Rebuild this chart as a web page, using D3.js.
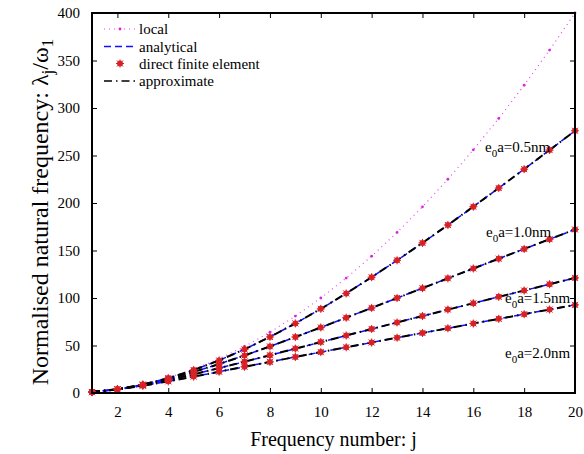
<!DOCTYPE html>
<html>
<head>
<meta charset="utf-8">
<script src="https://cdn.jsdelivr.net/npm/d3@7"></script>
<style>
  body { margin: 0; background: #fff; }
  svg text { font-family: "Liberation Serif", "Times New Roman", serif; fill: #000; }
</style>
</head>
<body>
<svg id="chart" width="584" height="454"></svg>
<script>
// frequency numbers j
var modes = [1, 2, 3, 4, 5, 6, 7, 8, 9, 10, 11, 12, 13, 14, 15, 16, 17, 18, 19, 20];

// local theory (no small scale)
var localVals = [1, 4, 9, 16, 25, 36, 49, 64, 81, 100, 121, 144, 169, 196, 225, 256, 289, 324, 361, 400];

// nonlocal curves, one per e0a
var e05 = [1.0, 3.98, 8.89, 15.66, 24.18, 34.34, 46.0, 59.02, 73.25, 88.56, 104.81, 121.88, 139.64, 157.99, 176.84, 196.11, 215.72, 235.62, 255.74, 276.03];
var e10 = [0.99, 3.91, 8.59, 14.75, 22.14, 30.47, 39.5, 49.03, 58.9, 69.01, 79.25, 89.58, 99.95, 110.33, 120.7, 131.05, 141.37, 151.66, 161.91, 172.13];
var e15 = [0.99, 3.82, 8.14, 13.54, 19.65, 26.18, 32.94, 39.81, 46.73, 53.64, 60.54, 67.4, 74.24, 81.03, 87.79, 94.52, 101.21, 107.89, 114.53, 121.16];
var e20 = [0.98, 3.69, 7.62, 12.26, 17.25, 22.4, 27.58, 32.76, 37.91, 43.03, 48.12, 53.17, 58.19, 63.18, 68.15, 73.1, 78.03, 82.95, 87.86, 92.75];

var curveLabels = ["0.5nm", "1.0nm", "1.5nm", "2.0nm"];
var legendNames = ["local", "analytical", "direct finite element", "approximate"];
var xTicks = [2, 4, 6, 8, 10, 12, 14, 16, 18, 20];
var yTicks = [0, 50, 100, 150, 200, 250, 300, 350, 400];

var nonlocal = [e05, e10, e15, e20];

var svg = d3.select("#chart");
var plotL = 92, plotR = 575, plotT = 13, plotB = 393;

var x = d3.scaleLinear().domain([1, 20]).range([plotL, plotR]);
var y = d3.scaleLinear().domain([0, 400]).range([plotB, plotT]);

// axes with inward ticks
svg.append('g')
  .attr('transform', 'translate(0,' + plotB + ')')
  .call(d3.axisBottom(x).tickValues(xTicks).tickSizeInner(-5).tickSizeOuter(0).tickPadding(13))
  .call(function (g) { g.select('.domain').remove(); });
svg.append('g')
  .attr('transform', 'translate(0,' + plotT + ')')
  .call(d3.axisTop(x).tickValues(xTicks).tickSizeInner(-5).tickSizeOuter(0).tickFormat(''))
  .call(function (g) { g.select('.domain').remove(); });
svg.append('g')
  .attr('transform', 'translate(' + plotL + ',0)')
  .call(d3.axisLeft(y).tickValues(yTicks).tickSizeInner(-5).tickSizeOuter(0).tickPadding(12))
  .call(function (g) { g.select('.domain').remove(); });
svg.append('g')
  .attr('transform', 'translate(' + plotR + ',0)')
  .call(d3.axisRight(y).tickValues(yTicks).tickSizeInner(-5).tickSizeOuter(0).tickFormat(''))
  .call(function (g) { g.select('.domain').remove(); });

svg.selectAll('.tick text').attr('font-size', 15).attr('font-family', '"Liberation Serif", serif');
svg.selectAll('.tick line').attr('stroke', '#000');

var line = d3.line()
  .x(function (d, i) { return x(modes[i]); })
  .y(function (d) { return y(d); });

// local curve
svg.append('path')
  .attr('d', line(localVals))
  .attr('fill', 'none')
  .attr('stroke', '#ee44ee')
  .attr('stroke-width', 1.2)
  .attr('stroke-dasharray', '1,4');
svg.selectAll('.localdot').data(localVals).enter().append('circle')
  .attr('cx', function (d, i) { return x(modes[i]); })
  .attr('cy', function (d) { return y(d); })
  .attr('r', 1.4)
  .attr('fill', '#dd22dd');

// analytical (blue dashed) then approximate (black dash-dot)
nonlocal.forEach(function (vals) {
  svg.append('path')
    .attr('d', line(vals))
    .attr('fill', 'none')
    .attr('stroke', '#1010ff')
    .attr('stroke-width', 1.5)
    .attr('stroke-dasharray', '7,4');
});
nonlocal.forEach(function (vals) {
  svg.append('path')
    .attr('d', line(vals))
    .attr('fill', 'none')
    .attr('stroke', '#000')
    .attr('stroke-width', 2)
    .attr('stroke-dasharray', '8,4,1.5,4');
});

function star(g, cx, cy) {
  g.append('circle').attr('cx', cx).attr('cy', cy).attr('r', 3).attr('fill', '#e0282c');
  g.append('path')
    .attr('d', 'M' + (cx - 4) + ',' + cy + 'h8M' + cx + ',' + (cy - 4) + 'v8' +
      'M' + (cx - 3) + ',' + (cy - 3) + 'l6,6M' + (cx - 3) + ',' + (cy + 3) + 'l6,-6')
    .attr('stroke', '#d42026')
    .attr('stroke-width', 1);
}

// direct finite element markers
var markers = svg.append('g');
nonlocal.forEach(function (vals) {
  vals.forEach(function (v, i) {
    star(markers, x(modes[i]), y(v));
  });
});

// frame
svg.append('rect')
  .attr('x', plotL).attr('y', plotT)
  .attr('width', plotR - plotL).attr('height', plotB - plotT)
  .attr('fill', 'none').attr('stroke', '#000').attr('stroke-width', 2);

// curve labels
var labelPos = [[485, 152], [486, 237], [505, 303], [505, 358]];
curveLabels.forEach(function (lab, k) {
  var t = svg.append('text')
    .attr('x', labelPos[k][0]).attr('y', labelPos[k][1])
    .attr('font-size', 15);
  t.append('tspan').text('e');
  t.append('tspan').attr('font-size', 11).attr('dy', 5).text('0');
  t.append('tspan').attr('dy', -5).text('a=' + lab);
});

// legend
var leg = svg.append('g');
var legY = [29, 46.5, 63.5, 81];
leg.append('line').attr('x1', 104).attr('x2', 135).attr('y1', legY[0]).attr('y2', legY[0])
  .attr('stroke', '#ee44ee').attr('stroke-width', 1.2).attr('stroke-dasharray', '1,4');
leg.append('circle').attr('cx', 120).attr('cy', legY[0]).attr('r', 1.4).attr('fill', '#dd22dd');
leg.append('line').attr('x1', 104).attr('x2', 135).attr('y1', legY[1]).attr('y2', legY[1])
  .attr('stroke', '#1010ff').attr('stroke-width', 1.5).attr('stroke-dasharray', '7,4');
star(leg, 120, legY[2]);
leg.append('line').attr('x1', 104).attr('x2', 135).attr('y1', legY[3]).attr('y2', legY[3])
  .attr('stroke', '#000').attr('stroke-width', 1.5).attr('stroke-dasharray', '8,4,1.5,4');
legendNames.forEach(function (n, i) {
  leg.append('text').attr('x', 139).attr('y', legY[i] + 5).attr('font-size', 15).text(n);
});

// axis titles
svg.append('text')
  .attr('x', (plotL + plotR) / 2).attr('y', 446)
  .attr('text-anchor', 'middle').attr('font-size', 20)
  .text('Frequency number: j');

var yt = svg.append('text')
  .attr('transform', 'translate(48,212) rotate(-90)')
  .attr('text-anchor', 'middle').attr('font-size', 24);
yt.append('tspan').text('Normalised natural frequency: \u03bb');
yt.append('tspan').attr('font-size', 17).attr('dy', 5).text('j');
yt.append('tspan').attr('dy', -5).text('/\u03c9');
yt.append('tspan').attr('font-size', 17).attr('dy', 5).text('1');
</script>
</body>
</html>
